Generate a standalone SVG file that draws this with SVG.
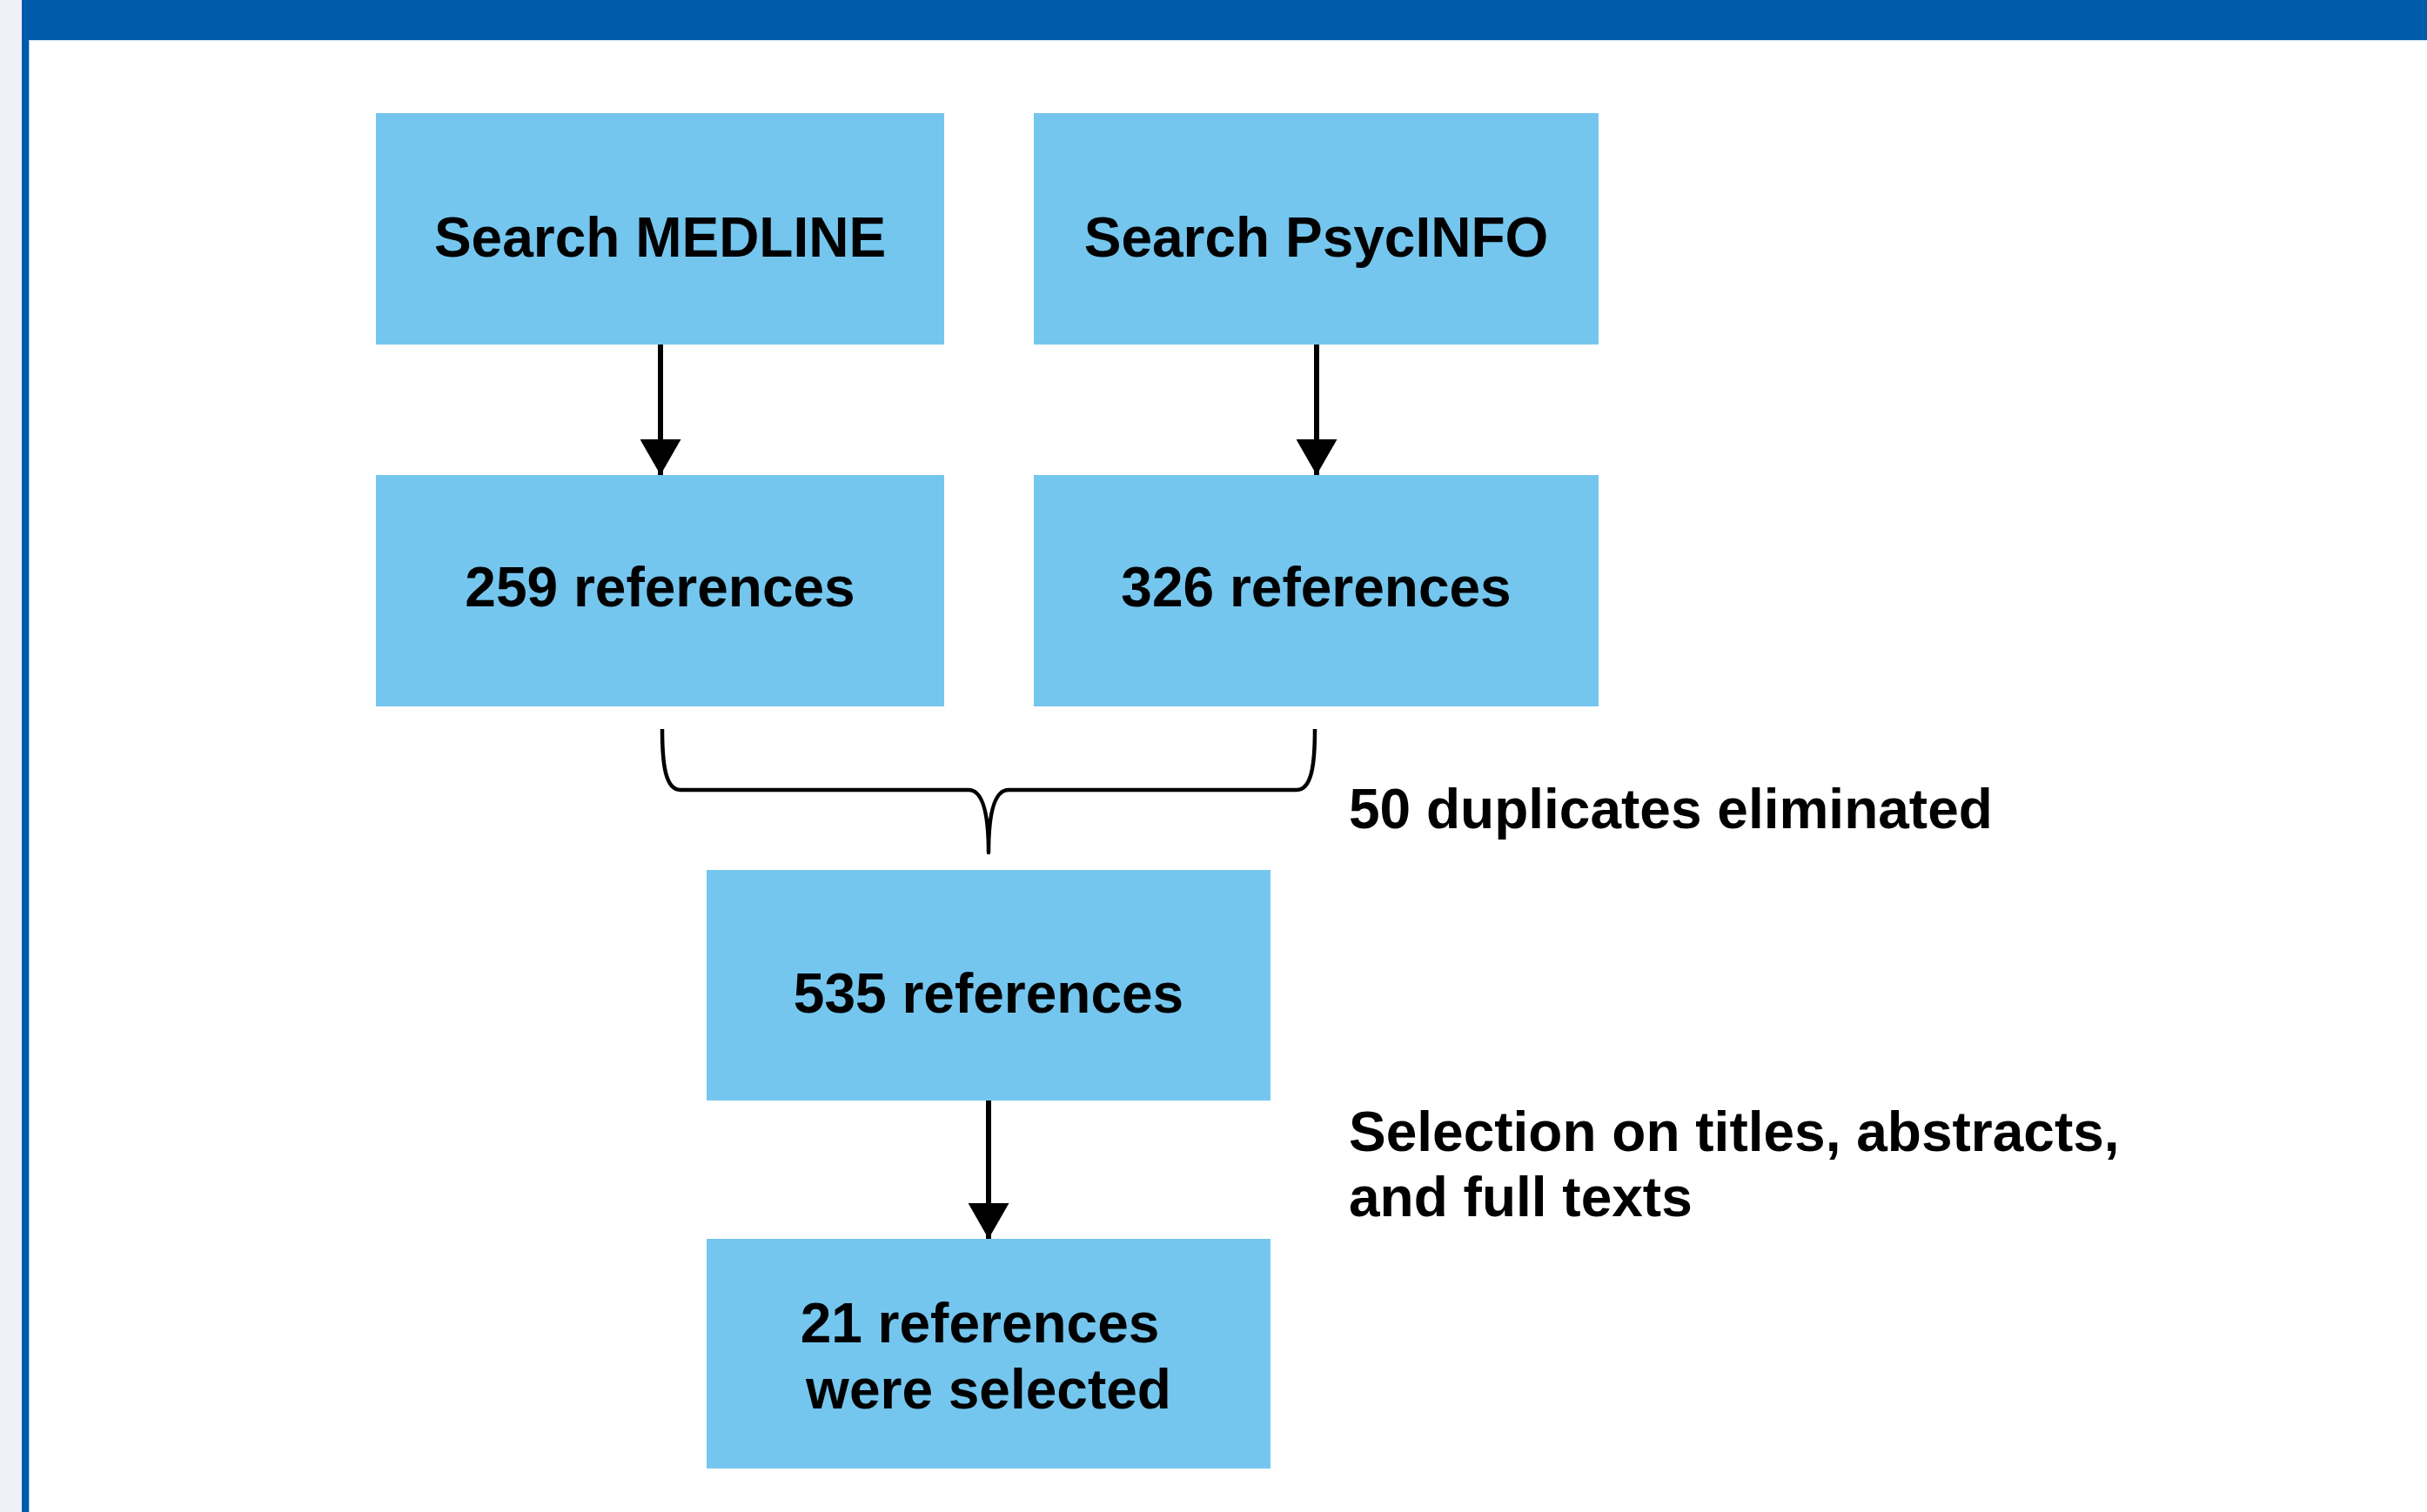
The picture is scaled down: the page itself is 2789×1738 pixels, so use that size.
<svg xmlns="http://www.w3.org/2000/svg" width="2789" height="1738" viewBox="0 0 2789 1738">
  <defs>
    <style>
      .box { fill: #74C6EE; }
      .lbl { font-family: "Liberation Sans", Arial, sans-serif; font-weight: bold; font-size: 64px; fill: #000; }
      .mid { text-anchor: middle; }
      .conn { stroke: #000; stroke-width: 6; fill: none; }
      .brace { stroke: #000; stroke-width: 4.5; fill: none; stroke-linejoin: round; }
    </style>
    <marker id="arrow" markerUnits="userSpaceOnUse" markerWidth="41" markerHeight="47" refX="41" refY="23.5" orient="auto" viewBox="0 0 41 47">
      <polygon points="0,0 41,23.5 0,47" fill="#000"/>
    </marker>
  </defs>

  <!-- background frame -->
  <rect x="0" y="0" width="2789" height="1738" fill="#FFFFFF"/>
  <rect x="0" y="0" width="25" height="1738" fill="#EFF0F8"/>
  <rect x="25" y="0" width="2764" height="46" fill="#005AAA"/>
  <rect x="25" y="0" width="8" height="1738" fill="#005AAA"/>
  <line x1="33.5" y1="46" x2="33.5" y2="1738" stroke="#9CC8EC" stroke-width="1"/>
  <line x1="33" y1="46.5" x2="2789" y2="46.5" stroke="#CFE3F5" stroke-width="1"/>

  <g id="connectors">
    <line class="conn" x1="759" y1="396" x2="759" y2="546" marker-end="url(#arrow)"/>
    <line class="conn" x1="1513" y1="396" x2="1513" y2="546" marker-end="url(#arrow)"/>
    <line class="conn" x1="1136" y1="1265" x2="1136" y2="1424" marker-end="url(#arrow)"/>
    <path class="brace" d="M761,838 C761,880 765,908 782,908 L1113,908 C1128,908 1136,930 1136,980 C1136,930 1144,908 1159,908 L1490,908 C1507,908 1511,880 1511,838"/>
  </g>

  <g id="node-medline">
    <rect class="box" x="432" y="130" width="653" height="266"/>
    <text class="lbl mid" x="758.5" y="295">Search MEDLINE</text>
  </g>
  <g id="node-psycinfo">
    <rect class="box" x="1188" y="130" width="649" height="266"/>
    <text class="lbl mid" x="1512.5" y="295">Search PsycINFO</text>
  </g>
  <g id="node-259">
    <rect class="box" x="432" y="546" width="653" height="266"/>
    <text class="lbl mid" x="758.5" y="697">259 references</text>
  </g>
  <g id="node-326">
    <rect class="box" x="1188" y="546" width="649" height="266"/>
    <text class="lbl mid" x="1512.5" y="697">326 references</text>
  </g>
  <g id="node-535">
    <rect class="box" x="812" y="1000" width="648" height="265"/>
    <text class="lbl mid" x="1136" y="1164">535 references</text>
  </g>
  <g id="node-21">
    <rect class="box" x="812" y="1424" width="648" height="264"/>
    <text class="lbl mid" x="1126" y="1543">21 references</text>
    <text class="lbl mid" x="1136" y="1619">were selected</text>
  </g>

  <g id="label-duplicates">
    <text class="lbl" x="1550" y="952">50 duplicates eliminated</text>
  </g>
  <g id="label-selection">
    <text class="lbl" x="1550" y="1323">Selection on titles, abstracts,</text>
    <text class="lbl" x="1550" y="1398">and full texts</text>
  </g>
</svg>
